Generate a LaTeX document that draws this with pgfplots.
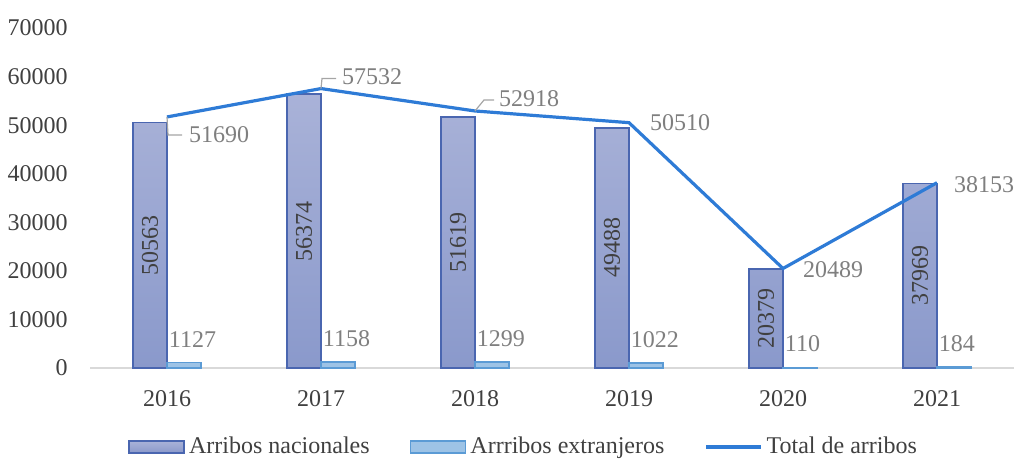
\documentclass[border=0pt]{standalone}
\usepackage{pgfplots}
\pgfplotsset{compat=1.18}
\usepackage{pgfplotstable}
\usepackage{fontspec}
\setmainfont{Liberation Serif}
\definecolor{nacTop}{HTML}{A9B2D8}
\definecolor{nacBot}{HTML}{8A99CB}
\definecolor{nacEdge}{HTML}{4A66B0}
\definecolor{extFill}{HTML}{9DC3E6}
\definecolor{extEdge}{HTML}{5B9BD5}
\definecolor{totLine}{HTML}{2E7BD6}
\definecolor{lblDark}{HTML}{404040}
\definecolor{lblGray}{HTML}{7F7F7F}
\pgfplotstableread{
x nac ext tot dx dy
0 50563 1127 51690 26 -9
1 56374 1158 57532 25.5 6
2 51619 1299 52918 27 6.25
3 49488 1022 50510 25.5 0
4 20379 110 20489 25 -0.5
5 37969 184 38153 23.5 -1
}\data
\pgfplotsset{
  barleg/.style={legend image code/.code={\draw[##1] (0pt,-3pt) rectangle (27.5pt,3pt);}},
  lineleg/.style={legend image code/.code={\draw[##1] (0pt,0pt) -- (27.5pt,0pt);}},
}
\begin{document}
\begin{tikzpicture}[font=\fontsize{12}{14}\selectfont]
\useasboundingbox (0,0) rectangle (510.5pt,230pt);
\begin{axis}[
  at={(45pt,46pt)}, anchor=south west,
  scale only axis, width=462pt, height=170pt,
  xmin=-0.5, xmax=5.5, ymin=0, ymax=70000,
  xtick={0,1,2,3,4,5},
  xticklabels={2016,2017,2018,2019,2020,2021},
  ytick={0,10000,...,70000},
  /pgf/number format/assume math mode=true,
  scaled y ticks=false,
  yticklabel={\pgfmathprintnumber[fixed,1000 sep={}]{\tick}},
  major tick length=0pt,
  axis line style={draw=none},
  tick style={draw=none},
  ticklabel style={text=lblDark},
  yticklabel style={inner sep=0pt, anchor=east, xshift=-11pt},
  xticklabel style={inner sep=0pt, anchor=north, yshift=-11pt},
  clip=false,
  legend style={at={(axis description cs:0.041,0)}, anchor=west, yshift=-39.5pt,
    draw=none, fill=none, inner sep=0pt, text=lblDark,
    /tikz/every even column/.append style={column sep=18pt}},
  legend columns=3,
]
\draw[color=black!15, line width=0.8pt] (axis cs:-0.5,0) -- (axis cs:5.5,0);
\addplot[ybar, bar width=17pt, bar shift=-8.5pt, draw=nacEdge, line width=0.9pt,
  top color=nacTop, bottom color=nacBot,
  visualization depends on={\thisrow{nac}*0.0012143 \as \half},
  nodes near coords, point meta=explicit symbolic,
  every node near coord/.append style={xshift=-8.5pt, yshift=-\half pt, rotate=90,
    anchor=center, inner sep=0pt, text=lblDark},
  barleg]
  table[x=x, y=nac, meta=nac] {\data};
\addlegendentry{Arribos nacionales}
\addplot[ybar, bar width=17pt, bar shift=8.5pt, draw=extEdge, line width=0.9pt,
  fill=extFill,
  nodes near coords, point meta=explicit symbolic,
  every node near coord/.append style={anchor=base west, inner sep=0pt,
    text=lblGray, xshift=0.5pt, yshift=7.75pt},
  barleg]
  table[x=x, y=ext, meta=ext] {\data};
\addlegendentry{Arrribos extranjeros}
\addplot[color=totLine, line width=1.6pt, mark=none,
  visualization depends on={\thisrow{dx} \as \ddx},
  visualization depends on={\thisrow{dy} \as \ddy},
  nodes near coords, point meta=explicit symbolic,
  every node near coord/.append style={anchor=center, inner sep=0pt,
    text=lblGray, xshift=\ddx pt, yshift=\ddy pt},
  lineleg]
  table[x=x, y=tot, meta=tot] {\data};
\addlegendentry{Total de arribos}
\draw[lblGray!70, line width=0.6pt] (axis cs:0,51690) -- ++(0.5pt,-9pt) -- ++(7pt,0pt);
\draw[lblGray!70, line width=0.6pt] (axis cs:1,57532) -- ++(0.5pt,5pt) -- ++(7pt,0pt);
\draw[lblGray!70, line width=0.6pt] (axis cs:2,52918) -- ++(4.5pt,5.5pt) -- ++(5pt,0pt);
\end{axis}
\end{tikzpicture}
\end{document}
